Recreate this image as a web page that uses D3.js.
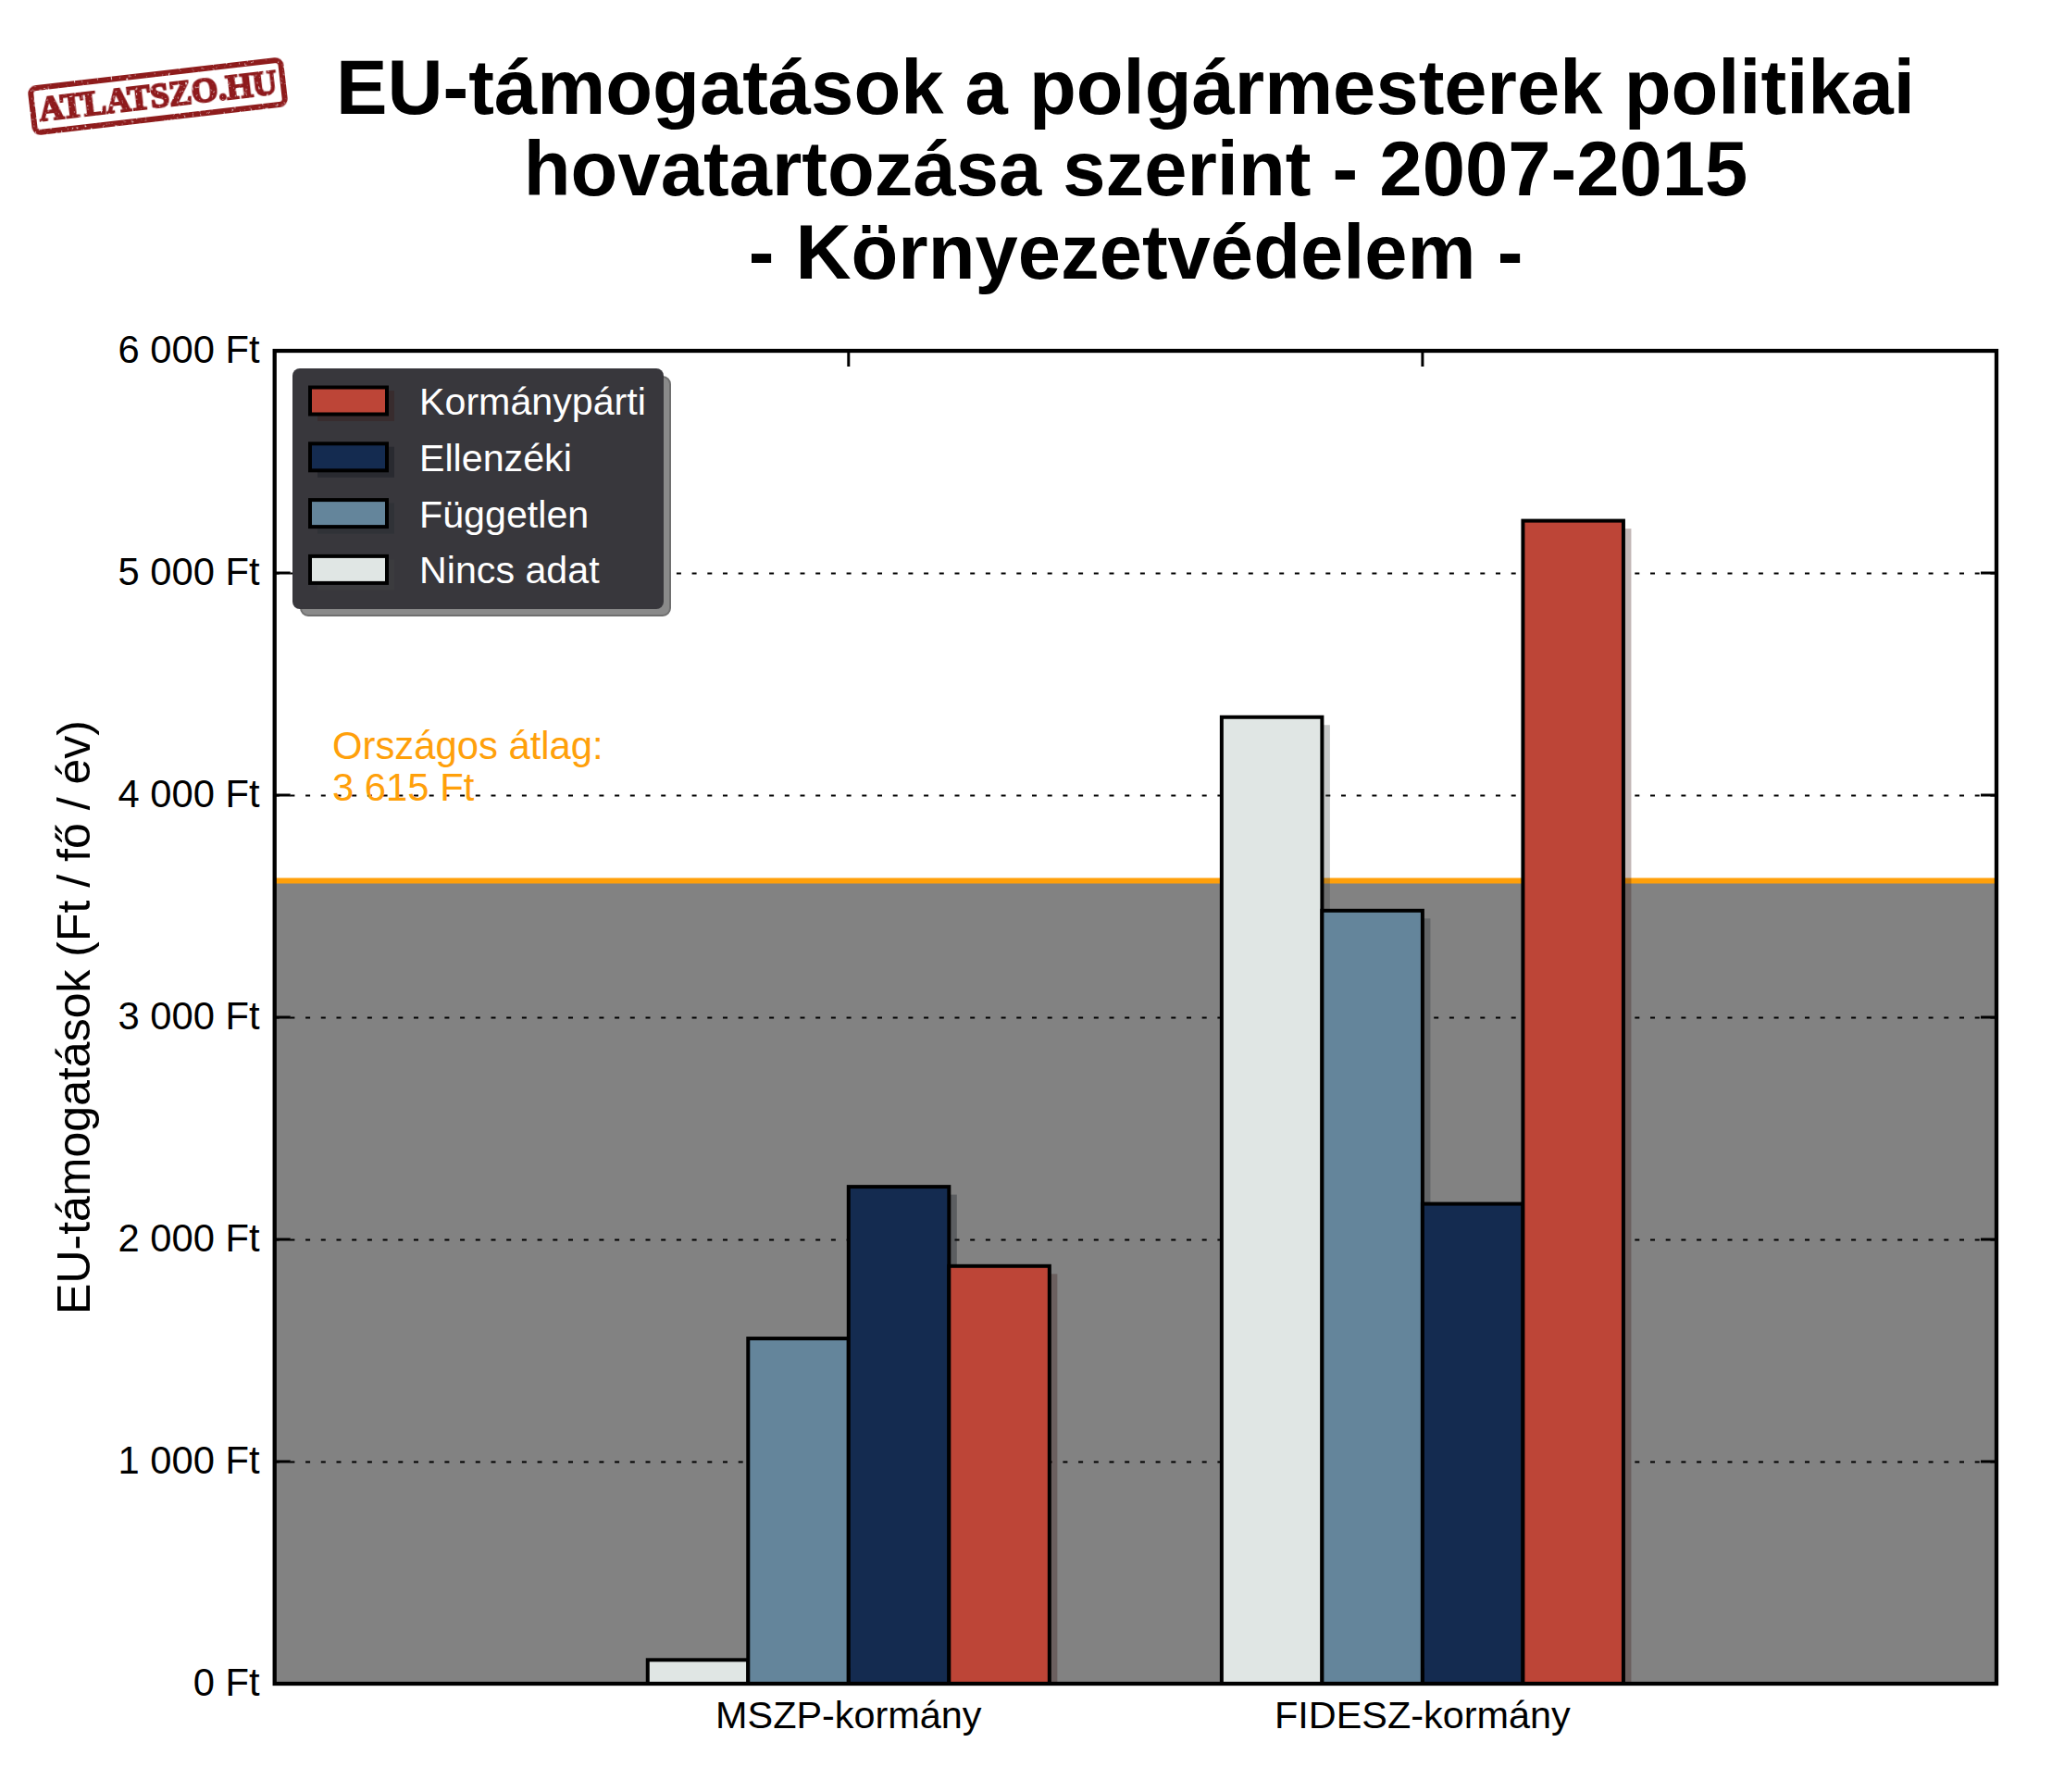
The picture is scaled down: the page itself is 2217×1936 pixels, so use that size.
<!DOCTYPE html>
<html><head><meta charset="utf-8">
<script src="https://cdn.jsdelivr.net/npm/d3@7"></script>
<style>html,body{margin:0;padding:0;background:#fff}svg{display:block}text{font-family:"Liberation Sans",Arial,sans-serif}</style>
</head><body><div id="c"></div>
<script>
const groups = ["MSZP-kormány", "FIDESZ-kormány"];
const groupPositions = [1, 2];
const seriesNames = ["Nincs adat", "Független", "Ellenzéki", "Kormánypárti"];
const seriesColors = ["#e0e6e4", "#64859b", "#142b50", "#bd4537"];
const nincsAdat = [107, 4351];
const fuggetlen = [1554, 3480];
const ellenzeki = [2237, 2160];
const kormanyparti = [1880, 5235];
const average = 3615;
const yTicks = [0, 1000, 2000, 3000, 4000, 5000, 6000];
const yTickLabels = ["0 Ft", "1 000 Ft", "2 000 Ft", "3 000 Ft", "4 000 Ft", "5 000 Ft", "6 000 Ft"];
const titleLines = ["EU-támogatások a polgármesterek politikai", "hovatartozása szerint - 2007-2015", "- Környezetvédelem -"];
const avgLabel = ["Országos átlag:", "3 615 Ft"];
const yLabel = "EU-támogatások (Ft / fő / év)";
const logoText = "ATLATSZO.HU";
const seriesValues = [nincsAdat, fuggetlen, ellenzeki, kormanyparti];

const W = 2217, H = 1936, L = 296.7, R = 2157, T = 379, B = 1819;
const barW = 0.175;
const x = d3.scaleLinear().domain([0, 3]).range([L, R]);
const y = d3.scaleLinear().domain([0, 6000]).range([B, T]);
const svg = d3.select("#c").append("svg").attr("width", W).attr("height", H).attr("viewBox", `0 0 ${W} ${H}`);
const rho = c => { const k = d3.rgb(c); return d3.rgb(k.r * .3, k.g * .3, k.b * .3).formatHex(); };

// average band + line
svg.append("rect").attr("x", L).attr("width", R - L).attr("y", y(average)).attr("height", B - y(average)).attr("fill", "#828282");

// grid
const yAxisGrid = d3.axisLeft(y).tickValues(yTicks.slice(1, -1)).tickSize(-(R - L)).tickFormat("");
const gridG = svg.append("g").attr("transform", `translate(${L},0)`).call(yAxisGrid);
gridG.select(".domain").remove();
gridG.selectAll("line").attr("stroke", "#000").attr("stroke-width", 2).attr("stroke-dasharray", "5 11.7");

svg.append("line").attr("x1", L).attr("x2", R).attr("y1", y(average)).attr("y2", y(average)).attr("stroke", "#ffa00a").attr("stroke-width", 6);

// bars
seriesValues.forEach((vals, si) => {
  const g = svg.append("g");
  vals.forEach((v, gi) => {
    const x0 = x(groupPositions[gi] + (si - 2) * barW), w = x(barW) - x(0);
    g.append("rect").attr("x", x0 + 8.5).attr("y", y(v) + 8.5).attr("width", w).attr("height", B - y(v) - 8.5)
      .attr("fill", rho(seriesColors[si])).attr("opacity", .3);
    g.append("rect").attr("x", x0).attr("y", y(v)).attr("width", w).attr("height", B - y(v))
      .attr("fill", seriesColors[si]).attr("stroke", "#000").attr("stroke-width", 4);
  });
});

// annotation
const ann = svg.append("text").attr("fill", "#ffa00a").attr("font-size", 41.8);
avgLabel.forEach((t, i) => ann.append("tspan").attr("x", 359).attr("y", 820 + i * 45).text(t));

// frame + ticks
svg.append("rect").attr("x", L).attr("y", T).attr("width", R - L).attr("height", B - T).attr("fill", "none").attr("stroke", "#000").attr("stroke-width", 4.3);
const tickLen = 17;
const tl = svg.append("g").attr("stroke", "#000").attr("stroke-width", 3);
yTicks.forEach(v => {
  tl.append("line").attr("x1", L).attr("x2", L + tickLen).attr("y1", y(v)).attr("y2", y(v));
  tl.append("line").attr("x1", R).attr("x2", R - tickLen).attr("y1", y(v)).attr("y2", y(v));
});
groupPositions.forEach(p => {
  tl.append("line").attr("x1", x(p)).attr("x2", x(p)).attr("y1", T).attr("y2", T + tickLen);
  tl.append("line").attr("x1", x(p)).attr("x2", x(p)).attr("y1", B).attr("y2", B - tickLen);
});

// tick labels
yTicks.forEach((v, i) => svg.append("text").attr("x", 280.5).attr("y", y(v) - 2).attr("dy", "0.35em").attr("text-anchor", "end").attr("font-size", 41.7).text(yTickLabels[i]));
groups.forEach((n, i) => svg.append("text").attr("x", x(groupPositions[i])).attr("y", 1867).attr("text-anchor", "middle").attr("font-size", 41.4).text(n));
svg.append("text").attr("transform", `translate(97,${(T + B) / 2}) rotate(-90)`).attr("text-anchor", "middle").attr("font-size", 50).text(yLabel);

// legend
const lg = svg.append("g");
lg.append("rect").attr("x", 325).attr("y", 407).attr("width", 399).attr("height", 258).attr("rx", 8).attr("fill", "#8a8a8a").attr("stroke", "#6f6f6f").attr("stroke-width", 2);
lg.append("rect").attr("x", 316).attr("y", 398).attr("width", 401).attr("height", 260).attr("rx", 8).attr("fill", "#38373c");
const legendOrder = [3, 2, 1, 0];
legendOrder.forEach((si, i) => {
  const yy = 433 + i * 60.8;
  lg.append("rect").attr("x", 343).attr("y", yy - 11).attr("width", 83).attr("height", 33).attr("fill", rho(seriesColors[si])).attr("opacity", .3);
  lg.append("rect").attr("x", 335).attr("y", yy - 14.5).attr("width", 83).attr("height", 29).attr("fill", seriesColors[si]).attr("stroke", "#000").attr("stroke-width", 4);
  lg.append("text").attr("x", 453).attr("y", yy + 15).attr("fill", "#fff").attr("font-size", 41.2).text(seriesNames[si]);
});

// title
titleLines.forEach((t, i) => svg.append("text").attr("x", i === 0 ? 1216 : 1227).attr("y", [123, 211, 301][i]).attr("text-anchor", "middle").attr("font-size", 83.2).attr("font-weight", "bold").text(t));

// logo stamp
const defs = svg.append("defs");
const f = defs.append("filter").attr("id", "worn").attr("x", "-5%").attr("y", "-15%").attr("width", "110%").attr("height", "130%");
f.append("feTurbulence").attr("type", "fractalNoise").attr("baseFrequency", .35).attr("numOctaves", 2).attr("seed", 4).attr("result", "n");
f.append("feColorMatrix").attr("in", "n").attr("type", "matrix").attr("values", "0 0 0 0 0  0 0 0 0 0  0 0 0 0 0  0 0 0 -6 4.9").attr("result", "m");
f.append("feComposite").attr("in", "SourceGraphic").attr("in2", "m").attr("operator", "in");
const logo = svg.append("g").attr("transform", "translate(170.5,104) rotate(-6.6)").attr("filter", "url(#worn)");
logo.append("rect").attr("x", -136).attr("y", -24).attr("width", 272).attr("height", 48).attr("rx", 6).attr("fill", "none").attr("stroke", "#8e1a1e").attr("stroke-width", 6);
logo.append("text").attr("x", 0).attr("y", 12).attr("text-anchor", "middle").attr("font-size", 37).attr("font-weight", "bold").style("font-family", "'Liberation Serif',serif").attr("letter-spacing", -.2).attr("fill", "#8e1a1e").attr("stroke", "#8e1a1e").attr("stroke-width", 2).text(logoText);
</script></body></html>
